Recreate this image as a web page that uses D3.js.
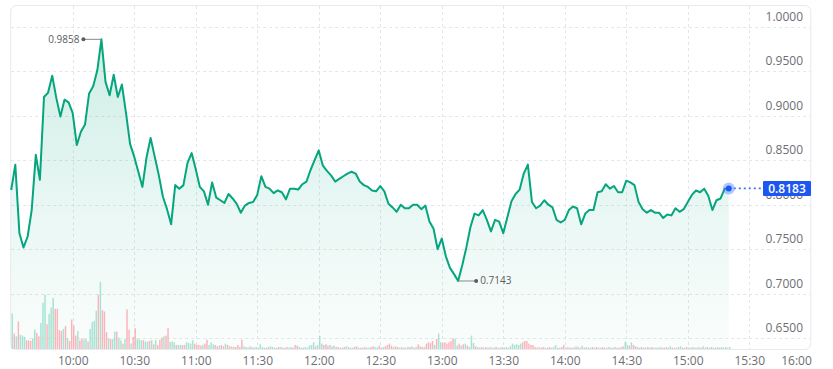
<!DOCTYPE html>
<html>
<head>
<meta charset="utf-8">
<script src="https://cdn.jsdelivr.net/npm/d3@7"></script>
<style>
  html, body { margin: 0; padding: 0; background: #ffffff; }
  svg { display: block; }
</style>
</head>
<body>
<div id="chart"></div>
<script>
// ---------------- DATA ----------------
const sessionStart = "09:30";
const sessionEnd = "16:00";
const priceStepMinutes = 2;
// Price every 2 minutes from 09:30 to 15:20
const prices = [
  0.8165, 0.845, 0.768, 0.752, 0.764, 0.794, 0.856, 0.828, 0.921, 0.926,
  0.945, 0.920, 0.899, 0.918, 0.915, 0.903, 0.867, 0.882, 0.890, 0.925,
  0.933, 0.951, 0.9858, 0.938, 0.923, 0.946, 0.921, 0.935, 0.903, 0.868,
  0.854, 0.837, 0.820, 0.853, 0.875, 0.854, 0.833, 0.809, 0.795, 0.778,
  0.822, 0.818, 0.822, 0.847, 0.858, 0.840, 0.820, 0.815, 0.800, 0.825,
  0.808, 0.805, 0.802, 0.812, 0.807, 0.801, 0.791, 0.799, 0.802, 0.803,
  0.811, 0.832, 0.820, 0.818, 0.813, 0.816, 0.814, 0.806, 0.818, 0.818,
  0.817, 0.823, 0.826, 0.839, 0.850, 0.861, 0.844, 0.838, 0.833, 0.826,
  0.829, 0.832, 0.835, 0.837, 0.835, 0.826, 0.822, 0.820, 0.816, 0.815,
  0.821, 0.815, 0.801, 0.797, 0.792, 0.800, 0.796, 0.796, 0.800, 0.800,
  0.795, 0.799, 0.781, 0.773, 0.750, 0.762, 0.742, 0.729, 0.722, 0.7143,
  0.732, 0.752, 0.775, 0.790, 0.788, 0.794, 0.783, 0.770, 0.783, 0.781,
  0.768, 0.786, 0.804, 0.812, 0.817, 0.835, 0.845, 0.803, 0.796, 0.799,
  0.805, 0.800, 0.797, 0.783, 0.780, 0.783, 0.794, 0.798, 0.796, 0.778,
  0.790, 0.794, 0.794, 0.814, 0.815, 0.823, 0.818, 0.821, 0.814, 0.814,
  0.827, 0.825, 0.822, 0.803, 0.795, 0.791, 0.794, 0.791, 0.791, 0.785,
  0.789, 0.788, 0.796, 0.792, 0.795, 0.803, 0.811, 0.816, 0.814, 0.818,
  0.810, 0.794, 0.805, 0.807, 0.818, 0.8183
];
// Volume per minute from 09:30 (thousands); sign: + = up minute, - = down minute
const volumes = [
  53,-23,19,-41,21,20,18,-13,-13,-12,
  16,29,-24,-19,39,69,81,-37,52,62,
  76,-60,-60,-28,-27,30,-34,16,-12,-44,
  -35,-20,27,-13,-16,14,15,-11,30,40,
  42,57,-81,100,-58,-56,-25,15,-15,15,
  26,-26,17,13,-8,15,-59,-29,8,-18,
  -31,15,14,13,-13,11,11,-12,13,-7,
  13,-6,-14,-17,19,-20,-31,11,11,10,
  -6,6,6,-6,-6,10,9,8,13,-8,
  -6,-6,-5,6,-8,-14,6,10,7,-6,
  -4,5,-6,-4,8,-6,-4,4,-3,-3,
  -6,-3,-14,4,
  3,-2,4,3,-2,3,2,7,3,-2,
  2,-3,4,3,-2,2,-3,3,2,-2,
  -3,2,3,-2,-6,-5,3,2,-2,3,
  2,5,6,10,-4,6,20,8,-6,-7,
  -5,6,-4,5,-3,-3,2,-2,-3,4,
  3,-2,2,-3,-4,2,-2,-2,3,-2,
  2,-3,-4,3,2,-5,-2,3,-4,-6,
  -8,-5,3,-4,-3,2,3,-2,-2,3,
  -3,4,-2,3,-7,-4,-3,3,-8,-10,
  -9,-12,6,-15,23,10,-9,-10,-8,-10,
  -12,-16,15,5,-8,5,-7,8,-5,3,
  20,9,-4,3,-2,-3,2,-3,-2,3,
  -2,2,-3,2,-2,3,-2,3,2,4,
  8,6,7,6,8,-10,-12,-12,-8,-6,
  -6,-3,-2,3,-2,-3,2,-2,-3,2,
  3,6,-2,2,-3,-6,-2,3,-2,2,
  -2,4,-3,2,5,-2,3,-2,2,-3,
  2,-3,-2,2,-3,2,-2,3,-2,2,
  -3,2,-2,3,-4,11,6,-5,10,-6,
  -4,3,-2,-3,2,-2,3,-2,-3,2,
  -2,2,3,-2,-2,3,-2,4,-2,2,
  -2,3,4,-2,2,-3,2,-2,3,-2,
  2,3,-2,4,2,-3,2,3,-2,2,
  3,-2,3,2,3,2,3
];
const yTickValues = [0.65, 0.70, 0.75, 0.80, 0.85, 0.90, 0.95, 1.00];
const xTickLabels = ["10:00","10:30","11:00","11:30","12:00","12:30","13:00","13:30","14:00","14:30","15:00","15:30","16:00"];

// ---------------- CHART ----------------
const W = 833, H = 369;
const parseT = d3.timeParse("%H:%M");
const t0 = parseT(sessionStart);
const t1 = parseT(sessionEnd);

const priceData = prices.map((v, i) => ({ t: d3.timeMinute.offset(t0, i * priceStepMinutes), v }));
const volData = volumes.map((v, i) => ({ t: d3.timeMinute.offset(t0, i), v: Math.abs(v), up: v >= 0 }));

const frame = { left: 11.2, right: 810.8, top: 5, bottom: 349 };

const x = d3.scaleTime().domain([t0, t1]).range([frame.left, frame.right]);
const y = d3.scaleLinear().domain([0.65, 1.0]).range([338.2, 26.7]);
const yVol = d3.scaleLinear().domain([0, 100]).range([frame.bottom, 282]);

const svg = d3.select("#chart").append("svg")
  .attr("width", W).attr("height", H)
  .attr("font-family", "'Open Sans', 'Noto Sans', sans-serif");

const defs = svg.append("defs");
const grad = defs.append("linearGradient")
  .attr("id", "areaGrad").attr("gradientUnits", "userSpaceOnUse")
  .attr("x1", 0).attr("x2", 0).attr("y1", 30).attr("y2", frame.bottom);
grad.append("stop").attr("offset", "0%").attr("stop-color", "#05a57e").attr("stop-opacity", 0.2);
grad.append("stop").attr("offset", "60%").attr("stop-color", "#05a57e").attr("stop-opacity", 0.08);
grad.append("stop").attr("offset", "100%").attr("stop-color", "#05a57e").attr("stop-opacity", 0.02);

// Frame
svg.append("rect")
  .attr("x", frame.left - 0.5).attr("y", frame.top + 0.5)
  .attr("width", frame.right - frame.left + 0.5).attr("height", frame.bottom - frame.top)
  .attr("rx", 6).attr("fill", "none").attr("stroke", "#e9e9ee").attr("stroke-width", 1);

// Gridlines
const xTickDates = xTickLabels.map(s => parseT(s));
svg.append("g").selectAll("line.h").data(yTickValues).join("line")
  .attr("x1", frame.left).attr("x2", frame.right)
  .attr("y1", d => Math.round(y(d)) + 0.5).attr("y2", d => Math.round(y(d)) + 0.5)
  .attr("stroke", "#e6e6ea").attr("stroke-dasharray", "3,3").attr("stroke-width", 1);
svg.append("g").selectAll("line.v").data(xTickDates.slice(0, -1)).join("line")
  .attr("x1", d => Math.round(x(d)) + 0.5).attr("x2", d => Math.round(x(d)) + 0.5)
  .attr("y1", frame.top + 1).attr("y2", frame.bottom)
  .attr("stroke", "#e6e6ea").attr("stroke-dasharray", "3,3").attr("stroke-width", 1);

// Area
const area = d3.area().x(d => x(d.t)).y0(frame.bottom).y1(d => y(d.v));
svg.append("path").datum(priceData).attr("d", area).attr("fill", "url(#areaGrad)");

// Volume bars
svg.append("g").selectAll("rect").data(volData).join("rect")
  .attr("x", d => x(d.t) + 0.3)
  .attr("width", 1.45)
  .attr("y", d => yVol(d.v))
  .attr("height", d => frame.bottom - yVol(d.v))
  .attr("fill", d => d.up ? "#9fdfcd" : "#f8adb5")
  .attr("opacity", 0.9);

// Line
const line = d3.line().x(d => x(d.t)).y(d => y(d.v));
svg.append("path").datum(priceData).attr("d", line)
  .attr("fill", "none").attr("stroke", "#05a57e").attr("stroke-width", 2)
  .attr("stroke-linejoin", "round");

// Axes labels
const yAxis = d3.axisLeft(y).tickValues(yTickValues).tickFormat(d3.format(".4f")).tickSize(0).tickPadding(0);
const gy = svg.append("g").attr("transform", `translate(803,0)`).call(yAxis);
gy.select(".domain").remove();
gy.selectAll("text").attr("y", -10.5).attr("font-size", 12).attr("fill", "#6e6e73")
  .attr("font-family", "'Open Sans', 'Noto Sans', sans-serif");

const xAxis = d3.axisBottom(x).tickValues(xTickDates).tickFormat((d, i) => xTickLabels[i]).tickSize(0).tickPadding(0);
const gx = svg.append("g").attr("transform", `translate(0,${frame.bottom})`).call(xAxis);
gx.select(".domain").remove();
gx.selectAll("text").attr("y", 7).attr("font-size", 12).attr("fill", "#6e6e73")
  .attr("font-family", "'Open Sans', 'Noto Sans', sans-serif");
gx.selectAll(".tick").filter((d, i) => i === xTickDates.length - 1).select("text")
  .attr("text-anchor", "end").attr("x", 0.5);

// Max / min annotations
const fmt = d3.format(".4f");
const maxD = priceData[d3.maxIndex(priceData, d => d.v)];
const minD = priceData[d3.minIndex(priceData, d => d.v)];
const ann = svg.append("g");
{
  const px = x(maxD.t), py = y(maxD.v);
  ann.append("line").attr("x1", px - 18).attr("x2", px).attr("y1", py).attr("y2", py)
    .attr("stroke", "#8a8a8f").attr("stroke-width", 1);
  ann.append("circle").attr("cx", px - 18).attr("cy", py).attr("r", 2).attr("fill", "#5b5b60");
  ann.append("text").attr("x", px - 22).attr("y", py).attr("dy", "0.35em")
    .attr("text-anchor", "end").attr("font-size", 10).attr("fill", "#5b5b60").text(fmt(maxD.v));
}
{
  const px = x(minD.t), py = y(minD.v);
  ann.append("line").attr("x1", px).attr("x2", px + 18).attr("y1", py).attr("y2", py)
    .attr("stroke", "#8a8a8f").attr("stroke-width", 1);
  ann.append("circle").attr("cx", px + 18).attr("cy", py).attr("r", 2).attr("fill", "#5b5b60");
  ann.append("text").attr("x", px + 22).attr("y", py).attr("dy", "0.35em")
    .attr("text-anchor", "start").attr("font-size", 10).attr("fill", "#5b5b60").text(fmt(minD.v));
}

// Last price marker
const last = priceData[priceData.length - 1];
const lx = x(last.t), ly = y(last.v);
svg.append("line").attr("x1", lx).attr("x2", 763).attr("y1", ly).attr("y2", ly)
  .attr("stroke", "#3d72ff").attr("stroke-width", 1.6).attr("stroke-dasharray", "2,3");
svg.append("circle").attr("cx", lx).attr("cy", ly).attr("r", 6).attr("fill", "#3d72ff").attr("opacity", 0.4);
svg.append("circle").attr("cx", lx).attr("cy", ly).attr("r", 3).attr("fill", "#1c57f2");
svg.append("rect").attr("x", 763).attr("y", ly - 7.5).attr("width", 48).attr("height", 15)
  .attr("fill", "#1c57f2").attr("rx", 1);
svg.append("text").attr("x", 787).attr("y", ly).attr("dy", "0.36em")
  .attr("text-anchor", "middle").attr("font-size", 12).attr("font-weight", 600)
  .attr("fill", "#ffffff").text(fmt(last.v));
</script>
</body>
</html>
